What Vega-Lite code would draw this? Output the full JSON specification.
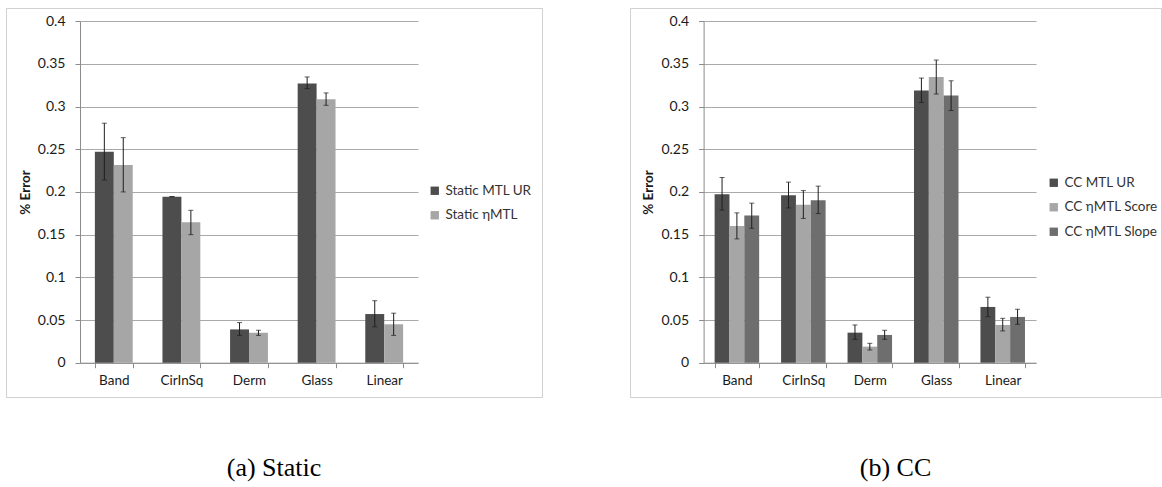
{
  "$schema": "https://vega.github.io/schema/vega-lite/v6.json",
  "padding": {"left": 5, "top": 7, "right": 0, "bottom": 0},
  "autosize": {"type": "pad"},
  "background": "white",
  "spacing": 86,
  "resolve": {
    "scale": {"color": "independent", "xOffset": "independent", "x": "independent", "y": "independent"},
    "legend": {"color": "independent"}
  },
  "datasets": {
    "static": [
      {"dataset": "Band", "method": "Static MTL UR", "value": 0.247, "lo": 0.214, "hi": 0.2805},
      {"dataset": "Band", "method": "Static ηMTL", "value": 0.2316, "lo": 0.200, "hi": 0.2636},
      {"dataset": "CirInSq", "method": "Static MTL UR", "value": 0.1945, "lo": 0.1943, "hi": 0.1947},
      {"dataset": "CirInSq", "method": "Static ηMTL", "value": 0.1645, "lo": 0.150, "hi": 0.1785},
      {"dataset": "Derm", "method": "Static MTL UR", "value": 0.039, "lo": 0.032, "hi": 0.047},
      {"dataset": "Derm", "method": "Static ηMTL", "value": 0.035, "lo": 0.032, "hi": 0.038},
      {"dataset": "Glass", "method": "Static MTL UR", "value": 0.327, "lo": 0.321, "hi": 0.3347},
      {"dataset": "Glass", "method": "Static ηMTL", "value": 0.3086, "lo": 0.3015, "hi": 0.316},
      {"dataset": "Linear", "method": "Static MTL UR", "value": 0.057, "lo": 0.042, "hi": 0.0726},
      {"dataset": "Linear", "method": "Static ηMTL", "value": 0.045, "lo": 0.032, "hi": 0.058}
    ],
    "cc": [
      {"dataset": "Band", "method": "CC MTL UR", "value": 0.1974, "lo": 0.1787, "hi": 0.2169},
      {"dataset": "Band", "method": "CC ηMTL Score", "value": 0.160, "lo": 0.145, "hi": 0.1755},
      {"dataset": "Band", "method": "CC ηMTL Slope", "value": 0.1723, "lo": 0.1575, "hi": 0.1869},
      {"dataset": "CirInSq", "method": "CC MTL UR", "value": 0.196, "lo": 0.1813, "hi": 0.2115},
      {"dataset": "CirInSq", "method": "CC ηMTL Score", "value": 0.1849, "lo": 0.169, "hi": 0.2016},
      {"dataset": "CirInSq", "method": "CC ηMTL Slope", "value": 0.1904, "lo": 0.1747, "hi": 0.2068},
      {"dataset": "Derm", "method": "CC MTL UR", "value": 0.0352, "lo": 0.0274, "hi": 0.0442},
      {"dataset": "Derm", "method": "CC ηMTL Score", "value": 0.0188, "lo": 0.0149, "hi": 0.0227},
      {"dataset": "Derm", "method": "CC ηMTL Slope", "value": 0.0325, "lo": 0.0274, "hi": 0.038},
      {"dataset": "Glass", "method": "CC MTL UR", "value": 0.3189, "lo": 0.3048, "hi": 0.3334},
      {"dataset": "Glass", "method": "CC ηMTL Score", "value": 0.3346, "lo": 0.3147, "hi": 0.3545},
      {"dataset": "Glass", "method": "CC ηMTL Slope", "value": 0.313, "lo": 0.2954, "hi": 0.3302},
      {"dataset": "Linear", "method": "CC MTL UR", "value": 0.0653, "lo": 0.0539, "hi": 0.0767},
      {"dataset": "Linear", "method": "CC ηMTL Score", "value": 0.0442, "lo": 0.0372, "hi": 0.052},
      {"dataset": "Linear", "method": "CC ηMTL Slope", "value": 0.0536, "lo": 0.045, "hi": 0.0626}
    ]
  },
  "hconcat": [
    {
      "width": 536,
      "height": 389,
      "title": {"text": "(a) Static", "orient": "bottom", "anchor": "middle", "offset": 79, "baseline": "alphabetic"},
      "data": {"name": "static"},
      "encoding": {
        "x": {
          "field": "dataset", "type": "nominal",
          "sort": ["Band", "CirInSq", "Derm", "Glass", "Linear"],
          "scale": {"range": [74, 412], "paddingInner": 0.44, "paddingOuter": 0.22},
          "axis": {"title": null, "offset": -34.3}
        },
        "xOffset": {"field": "method", "type": "nominal", "sort": ["Static MTL UR", "Static ηMTL"]}
      },
      "layer": [
        {
          "mark": {"type": "bar"},
          "encoding": {
            "y": {
              "field": "value", "type": "quantitative", "title": "% Error",
              "scale": {"domain": [0, 0.4], "range": [354.7, 13.2], "nice": false, "zero": true},
              "axis": {"offset": -74, "values": [0, 0.05, 0.1, 0.15, 0.2, 0.25, 0.3, 0.35, 0.4], "format": ".2~f"}
            },
            "color": {
              "field": "method", "type": "nominal",
              "scale": {"domain": ["Static MTL UR", "Static ηMTL"], "range": ["#4d4d4d", "#a6a6a6"]},
              "legend": {"orient": "none", "legendX": 422, "legendY": 176, "title": null}
            }
          }
        },
        {
          "mark": {"type": "rule", "color": "#1e1e1e", "strokeWidth": 1},
          "encoding": {
            "y": {"field": "lo", "type": "quantitative", "title": "% Error"},
            "y2": {"field": "hi"}
          }
        },
        {
          "mark": {"type": "tick", "orient": "horizontal", "size": 5, "thickness": 1, "color": "#1e1e1e"},
          "encoding": {"y": {"field": "lo", "type": "quantitative", "title": "% Error"}}
        },
        {
          "mark": {"type": "tick", "orient": "horizontal", "size": 5, "thickness": 1, "color": "#1e1e1e"},
          "encoding": {"y": {"field": "hi", "type": "quantitative", "title": "% Error"}}
        }
      ]
    },
    {
      "width": 531,
      "height": 389,
      "title": {"text": "(b) CC", "orient": "bottom", "anchor": "middle", "offset": 79, "baseline": "alphabetic"},
      "data": {"name": "cc"},
      "encoding": {
        "x": {
          "field": "dataset", "type": "nominal",
          "sort": ["Band", "CirInSq", "Derm", "Glass", "Linear"],
          "scale": {"range": [73.6, 406], "paddingInner": 0.33, "paddingOuter": 0.166},
          "axis": {"title": null, "offset": -34.3}
        },
        "xOffset": {"field": "method", "type": "nominal", "sort": ["CC MTL UR", "CC ηMTL Score", "CC ηMTL Slope"]}
      },
      "layer": [
        {
          "mark": {"type": "bar"},
          "encoding": {
            "y": {
              "field": "value", "type": "quantitative", "title": "% Error",
              "scale": {"domain": [0, 0.4], "range": [354.7, 13.2], "nice": false, "zero": true},
              "axis": {"offset": -73.6, "values": [0, 0.05, 0.1, 0.15, 0.2, 0.25, 0.3, 0.35, 0.4], "format": ".2~f"}
            },
            "color": {
              "field": "method", "type": "nominal",
              "scale": {"domain": ["CC MTL UR", "CC ηMTL Score", "CC ηMTL Slope"], "range": ["#4d4d4d", "#a6a6a6", "#6e6e6e"]},
              "legend": {"orient": "none", "legendX": 417, "legendY": 168, "title": null}
            }
          }
        },
        {
          "mark": {"type": "rule", "color": "#1e1e1e", "strokeWidth": 1},
          "encoding": {
            "y": {"field": "lo", "type": "quantitative", "title": "% Error"},
            "y2": {"field": "hi"}
          }
        },
        {
          "mark": {"type": "tick", "orient": "horizontal", "size": 5, "thickness": 1, "color": "#1e1e1e"},
          "encoding": {"y": {"field": "lo", "type": "quantitative", "title": "% Error"}}
        },
        {
          "mark": {"type": "tick", "orient": "horizontal", "size": 5, "thickness": 1, "color": "#1e1e1e"},
          "encoding": {"y": {"field": "hi", "type": "quantitative", "title": "% Error"}}
        }
      ]
    }
  ],
  "config": {
    "font": "Lato",
    "view": {"stroke": "#d0d0d0", "strokeWidth": 1},
    "axis": {
      "labelFont": "Lato", "labelFontSize": 14, "labelColor": "#1a1a1a",
      "titleFont": "Lato", "titleFontSize": 13.5, "titleFontWeight": "bold", "titleColor": "#1a1a1a",
      "domainColor": "#8c8c8c", "tickColor": "#8c8c8c", "tickSize": 5,
      "gridColor": "#a9a9a9", "gridWidth": 1
    },
    "axisX": {"labelAngle": 0, "tickBand": "extent", "grid": false, "labelPadding": 6, "labelFontSize": 13.5},
    "axisY": {"grid": true, "labelPadding": 10, "titlePadding": 5},
    "legend": {
      "symbolType": "square", "symbolSize": 70, "symbolStrokeWidth": 0,
      "labelFont": "Lato", "labelFontSize": 13.5, "labelColor": "#333333",
      "rowPadding": 9.5, "padding": 0, "labelOffset": 4, "labelLimit": 200
    },
    "title": {"font": "Liberation Serif", "fontSize": 26, "fontWeight": "normal", "color": "#000000"}
  }
}
